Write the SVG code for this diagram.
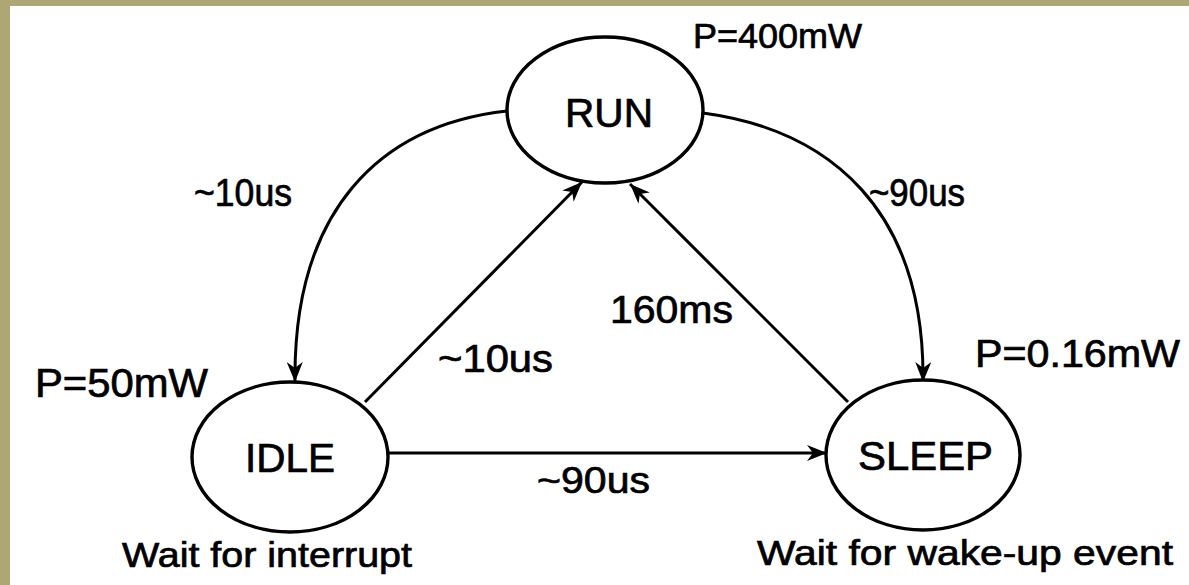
<svg xmlns="http://www.w3.org/2000/svg" width="1189" height="585" viewBox="0 0 1189 585">
<defs>
<style>
.st{fill:#fff;stroke:#000;stroke-width:3.4}
.e{fill:none;stroke:#000;stroke-width:3}
.t{font-family:"Liberation Sans",Arial,sans-serif;fill:#000;stroke:#000;stroke-width:0.7}
</style>
<marker id="ah" markerUnits="userSpaceOnUse" markerWidth="22" markerHeight="16" refX="20" refY="8" orient="auto">
<path d="M0,0 L20,8 L0,16 L6,8 z" fill="#000"/>
</marker>
</defs>
<rect x="0" y="0" width="1189" height="585" fill="#aea675"/>
<rect x="10" y="6" width="1179" height="579" fill="#fff"/>
<g id="connectors">
<path class="e" d="M507,111 C380,125 293,210 295,382" marker-end="url(#ah)"/>
<path class="e" d="M365,402 L582,182" marker-end="url(#ah)"/>
<path class="e" d="M848,402 L630,184" marker-end="url(#ah)"/>
<path class="e" d="M703,113 C830,130 925,210 923,382" marker-end="url(#ah)"/>
<path class="e" d="M388,453 L827,453" stroke-width="3.6" marker-end="url(#ah)"/>
<text class="t" x="194" y="206" font-size="38" textLength="98" lengthAdjust="spacingAndGlyphs">~10us</text>
<text class="t" x="869" y="206" font-size="38" textLength="96" lengthAdjust="spacingAndGlyphs">~90us</text>
<text class="t" x="610" y="323" font-size="38" textLength="123" lengthAdjust="spacingAndGlyphs">160ms</text>
<text class="t" x="438" y="372" font-size="38" textLength="115" lengthAdjust="spacingAndGlyphs">~10us</text>
<text class="t" x="537" y="493" font-size="37" textLength="113" lengthAdjust="spacingAndGlyphs">~90us</text>
</g>
<g id="run">
<ellipse class="st" cx="605" cy="110" rx="98" ry="73"/>
<text class="t" x="565" y="127" font-size="41" textLength="88" lengthAdjust="spacingAndGlyphs">RUN</text>
<text class="t" x="693" y="48" font-size="35" textLength="169" lengthAdjust="spacingAndGlyphs">P=400mW</text>
</g>
<g id="idle">
<ellipse class="st" cx="290" cy="457" rx="98" ry="75"/>
<text class="t" x="245" y="472" font-size="41" textLength="90" lengthAdjust="spacingAndGlyphs">IDLE</text>
<text class="t" x="35" y="397" font-size="40" textLength="173" lengthAdjust="spacingAndGlyphs">P=50mW</text>
<text class="t" x="122" y="567" font-size="35" textLength="290" lengthAdjust="spacingAndGlyphs">Wait for interrupt</text>
</g>
<g id="sleep">
<ellipse class="st" cx="923" cy="455" rx="97" ry="75"/>
<text class="t" x="858" y="470" font-size="41" textLength="135" lengthAdjust="spacingAndGlyphs">SLEEP</text>
<text class="t" x="975" y="367" font-size="38" textLength="205" lengthAdjust="spacingAndGlyphs">P=0.16mW</text>
<text class="t" x="757" y="565" font-size="35" textLength="416" lengthAdjust="spacingAndGlyphs">Wait for wake-up event</text>
</g>
</svg>
